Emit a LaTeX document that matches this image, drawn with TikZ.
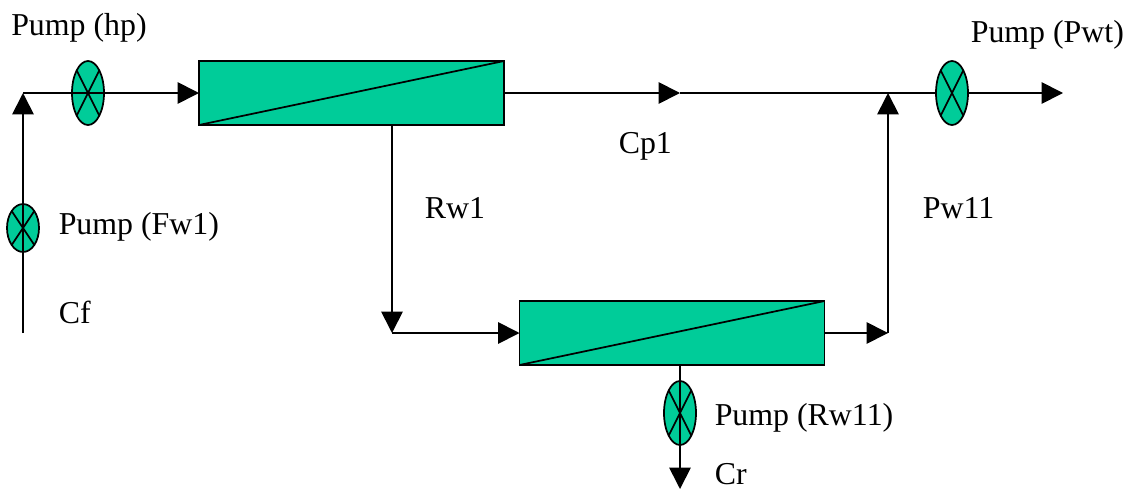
\documentclass[tikz,border=0pt]{standalone}
\usepackage{fontspec}
\setmainfont{Liberation Serif}
\usetikzlibrary{positioning, shapes.geometric, arrows.meta}
\definecolor{MembraneGreen}{RGB}{0, 204, 153}
\tikzset{
  membrane/.style={draw=black, line width=1.3pt, fill=MembraneGreen, rectangle, inner sep=0pt, outer sep=0pt, minimum width=228.75pt, minimum height=48pt},
  pumpvalve/.style={draw=black, line width=1.3pt, fill=MembraneGreen, ellipse, inner sep=0pt, outer sep=0pt, minimum width=24pt, minimum height=48pt,
    path picture={
      \draw[line width=1.3pt] (path picture bounding box.north west) -- (path picture bounding box.south east);
      \draw[line width=1.3pt] (path picture bounding box.north east) -- (path picture bounding box.south west);
    }},
  pumpsmall/.style={pumpvalve, minimum height=36pt},
  flowlabel/.style={anchor=base west, inner sep=0pt, font=\fontsize{23.9}{28}\selectfont},
  flow/.style={line width=1.3pt},
  flowarrow/.style={line width=1.3pt, -{Triangle[length=16pt, width=16pt]}}
}
\begin{document}
\begin{tikzpicture}[x=0.75pt, y=-0.75pt]
    \useasboundingbox (0,0) rectangle (1130,489);

    % Membrane units
    \node[membrane] (unitA) at (351.5,93) {};
    \node[membrane] (unitB) at (672,333) {};
    \draw[flow] (unitA.south west) -- (unitA.north east);
    \draw[flow] (unitB.south west) -- (unitB.north east);

    % Pumps
    \node[pumpvalve] (pumpHp) at (88,93) {};
    \node[pumpsmall] (pumpFw) at (23,228) {};
    \node[pumpvalve] (pumpPwt) at (952,93) {};
    \node[pumpvalve] (pumpRw) at (680,413) {};

    % Junctions
    \coordinate (feedIn) at (23,333);
    \coordinate (feedTop) at (23,93);
    \coordinate (permA) at (680,93);
    \coordinate (mix) at (888,93);
    \coordinate (outPwt) at (1063,93);
    \coordinate (rejA) at (392,125);
    \coordinate (rejBend) at (392,333);
    \coordinate (permB) at (888,333);
    \coordinate (outCr) at (680,489);

    % Feed line
    \draw[flowarrow] (feedIn) -- (pumpFw.center) -- (feedTop);
    \draw[flowarrow] (feedTop) -- (pumpHp.center) -- (unitA.west);

    % Permeate line
    \draw[flowarrow] (unitA.east) -- (permA);
    \draw[flow] (permA) -- (mix) -- (pumpPwt.west);
    \draw[flowarrow] (pumpPwt.east) -- (outPwt);

    % Reject of first unit
    \draw[flowarrow] (rejA) -- (rejBend);
    \draw[flowarrow] (rejBend) -- (unitB.west);

    % Second unit outlets
    \draw[flowarrow] (unitB.east) -- (permB);
    \draw[flowarrow] (permB) -- (mix);
    \draw[flowarrow] (pumpRw.center |- unitB.south) -- (pumpRw.center) -- (outCr);

    % Labels
    \node[flowlabel] (lblHp) at (11,36) {Pump (hp)};
    \node[flowlabel] (lblPwt) at (970.5,42) {Pump (Pwt)};
    \node[flowlabel] (lblCp) at (618.5,153) {Cp1};
    \node[flowlabel] (lblRw) at (424.5,218) {Rw1};
    \node[flowlabel] (lblPw) at (922.5,218) {Pw11};
    \node[flowlabel] (lblFw) at (58.5,234) {Pump (Fw1)};
    \node[flowlabel] (lblCf) at (58.5,323) {Cf};
    \node[flowlabel] (lblRwP) at (714.5,425) {Pump (Rw11)};
    \node[flowlabel] (lblCr) at (714.5,484) {Cr};
\end{tikzpicture}
\end{document}
